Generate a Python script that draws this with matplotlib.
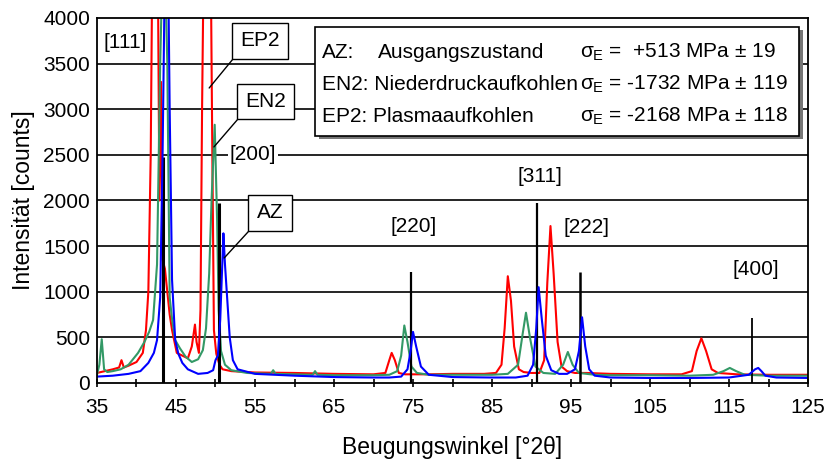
import numpy as np
import matplotlib
matplotlib.use("Agg")
import matplotlib.pyplot as plt
from matplotlib.patches import Rectangle

plt.rcParams['font.family'] = ['Liberation Sans', 'DejaVu Sans']
plt.rcParams['mathtext.fontset'] = 'custom'
plt.rcParams['mathtext.rm'] = 'Liberation Sans'
plt.rcParams['mathtext.it'] = 'Liberation Sans'

# --- data ------------------------------------------------------------
# EP2 (Plasmaaufkohlen), red
ep2_x = [35, 36, 37, 37.8, 38.1, 38.4, 39, 40, 40.8, 41.2, 41.5, 41.8, 42.0, 42.5,
         42.7, 42.9, 43.1, 43.3, 43.6, 43.9, 44.2, 44.5, 45.1, 45.8, 46.5, 47.0,
         47.4, 47.6, 47.9, 48.1, 48.3, 48.5, 49.0, 49.4, 49.6, 49.8, 50.1, 50.5,
         50.9, 52, 55, 60, 65, 70, 71.5, 72.0, 72.3, 72.7, 73.2, 74, 77, 80, 84,
         85.5, 86.2, 86.6, 87.0, 87.4, 87.8, 88.4, 89, 90, 91.0, 91.6, 92.0, 92.4,
         92.8, 93.3, 93.8, 94.5, 95.5, 97, 100, 105, 109, 110.3, 110.9, 111.5,
         112.1, 112.8, 113.6, 116, 120, 125]
ep2_y = [110, 130, 150, 170, 250, 170, 190, 230, 330, 580, 1000, 2500, 4600, 4600,
         4600, 2000, 3300, 1350, 1250, 1000, 750, 580, 330, 300, 270, 400,
         640, 450, 330, 800, 3000, 4600, 4600, 4600, 2500, 580, 320, 200,
         150, 130, 115, 110, 100, 95, 110, 250, 330, 250, 110, 95, 95, 100, 100,
         110, 200, 600, 1170, 900, 400, 150, 120, 110, 110, 250, 1100, 1720,
         1200, 450, 180, 130, 110, 110, 100, 95, 95, 130, 350, 490,
         350, 150, 110, 95, 90, 90]

# EN2 (Niederdruckaufkohlen), green
en2_x = [35, 35.3, 35.6, 35.9, 36.3, 37, 38, 39, 40.2, 41, 41.6, 42.1, 42.6, 43.0,
         43.3, 43.6, 43.9, 44.2, 44.5, 44.9, 45.5, 46.2, 47.0, 47.8, 48.4, 48.8,
         49.2, 49.5, 49.9, 50.2, 50.4, 50.7, 51.2, 52, 54, 57, 57.3, 57.6, 60,
         62.3, 62.6, 62.9, 65, 70, 72, 73.0, 73.5, 73.9, 74.3, 74.8, 75.5, 77,
         80, 85, 87, 88.3, 88.9, 89.3, 89.8, 90.5, 91.5, 93, 94.0, 94.6, 95.2,
         96, 98, 100, 105, 110, 113, 114.3, 115.1, 115.9, 117, 120, 125]
en2_y = [90, 200, 480, 150, 120, 130, 150, 200, 330, 450, 560, 690, 1300, 3500,
         4600, 4600, 3500, 940, 700, 470, 380, 290, 230, 260, 360, 600,
         1200, 2000, 2830, 1800, 800, 350, 200, 140, 110, 100, 140, 100, 95,
         90, 130, 90, 85, 85, 90, 130, 300, 630, 450, 180, 110, 90,
         90, 90, 100, 200, 550, 770, 500, 180, 110, 100, 200, 340, 200,
         110, 90, 85, 85, 80, 90, 130, 165, 130, 90, 80, 80]

# AZ (Ausgangszustand), blue
az_x = [35, 37, 39, 40.5, 41.5, 42.2, 42.6, 43.0, 43.3, 43.6, 44.0, 44.2, 44.5,
        44.9, 45.3, 45.8, 46.5, 47.8, 49.0, 49.7, 50.0, 50.3, 50.6, 50.9, 51.0,
        51.2, 51.5, 51.8, 52.2, 52.8, 55, 60, 65, 70, 72, 73.5, 74.3, 74.7, 75.0,
        75.4, 76, 77, 80, 85, 88, 89.5, 90.2, 90.6, 90.9, 91.3, 91.8, 92.5, 93.5,
        94.5, 95.5, 96.0, 96.4, 96.8, 97.3, 98, 100, 105, 110, 115, 117.5, 118.3,
        118.7, 119.1, 119.6, 121, 125]
az_y = [70, 80, 100, 130, 220, 330, 470, 940, 2500, 4600, 4600, 3000, 1130,
        470, 320, 220, 150, 100, 110, 140, 250, 300, 700, 1400, 1640,
        1300, 900, 500, 250, 150, 100, 80, 65, 60, 60, 70, 150, 350, 560,
        400, 180, 90, 65, 60, 60, 80, 200, 600, 1050, 700, 300, 140, 100,
        100, 150, 350, 720, 400, 150, 80, 60, 55, 55, 60, 90, 150,
        165, 130, 80, 60, 55]

# reference lines (Austenit) and their labels
ref_pos = [43.4, 50.5, 74.7, 90.7, 96.1, 117.9]
ref_height = [2480, 1970, 1220, 1970, 1220, 710]
ref_labels = ['[111]', '[200]', '[220]', '[311]', '[222]', '[400]']
ref_label_xy = [(35.8, 3726), (51.8, 2500), (72.1, 1710), (88.2, 2258),
                (94.0, 1700), (115.5, 1240)]

legend_rows = [('AZ:', 'Ausgangszustand', r'$\sigma_\mathrm{E}$ =  +513 MPa ± 19'),
               ('EN2: Niederdruckaufkohlen', '', r'$\sigma_\mathrm{E}$ = -1732 MPa ± 119'),
               ('EP2: Plasmaaufkohlen', '', r'$\sigma_\mathrm{E}$ = -2168 MPa ± 118')]

fs = 15

fig = plt.figure(figsize=(8.29, 4.59), dpi=100)
ax = fig.add_axes([0.117, 0.1656, 0.8577, 0.7952])

ax.set_xlim(35, 125)
ax.set_ylim(0, 4000)

# horizontal grid
for g in range(500, 4000, 500):
    ax.axhline(g, color='black', lw=1.2, zorder=1)

ax.plot(ep2_x, ep2_y, color='#ff0000', lw=1.5, zorder=2)
ax.plot(en2_x, en2_y, color='#339966', lw=1.5, zorder=3)
ax.vlines(ref_pos, 0, ref_height, colors='black',
          lw=[2.2, 2.2, 1.6, 1.6, 1.8, 1.3], zorder=4)
ax.plot(az_x, az_y, color='#0000ff', lw=1.5, zorder=5)

for lab, (lx, ly) in zip(ref_labels, ref_label_xy):
    kw = {}
    if lab == '[200]':
        kw['bbox'] = dict(facecolor='white', edgecolor='none', pad=1)
    ax.text(lx, ly, lab, fontsize=fs, ha='left', va='center', zorder=6, **kw)

# sample annotations
box = dict(boxstyle='square,pad=0.4', facecolor='white', edgecolor='black', lw=1)
for name, txy, pxy in [('EP2', (55.6, 3748), (49.2, 3233)),
                       ('EN2', (56.3, 3085), (49.8, 2587)),
                       ('AZ', (56.9, 1863), (51.1, 1370))]:
    ax.annotate(name, xy=pxy, xytext=txy, fontsize=fs, ha='center', va='center',
                bbox=box, zorder=7,
                arrowprops=dict(arrowstyle='-', color='black', lw=1,
                                shrinkA=0, shrinkB=0, relpos=(0, 0)))

# legend box with shadow
bx0, by0, bw, bh = 0.3066, 0.677, 0.6807, 0.298
ax.add_patch(Rectangle((bx0 + 0.005, by0 - 0.008), bw, bh, transform=ax.transAxes,
                       facecolor='#777777', edgecolor='none', zorder=7))
ax.add_patch(Rectangle((bx0, by0), bw, bh, transform=ax.transAxes,
                       facecolor='white', edgecolor='black', lw=1.2, zorder=8))
row_y = [0.905, 0.817, 0.730]
for (a, b, c), ry in zip(legend_rows, row_y):
    ax.text(0.3165, ry, a, transform=ax.transAxes, fontsize=fs, va='center', zorder=9)
    if b:
        ax.text(0.395, ry, b, transform=ax.transAxes, fontsize=fs, va='center', zorder=9)
    ax.text(0.679, ry, c, transform=ax.transAxes, fontsize=fs, va='center', zorder=9)

ax.set_xticks(np.arange(35, 126, 10))
ax.set_xticks(np.arange(40, 121, 10), minor=True)
ax.set_yticks(np.arange(0, 4001, 500))
ax.tick_params(axis='x', which='both', direction='inout', length=6, width=1.2,
               labelsize=fs, pad=8)
ax.tick_params(axis='y', length=0, labelsize=fs, pad=5)
for s in ax.spines.values():
    s.set_linewidth(1.3)
    s.set_zorder(10)

ax.set_xlabel('Beugungswinkel [°2θ]', fontsize=16.5)
ax.set_ylabel('Intensität [counts]', fontsize=16.5)
ax.xaxis.set_label_coords(0.5, -0.145)
ax.yaxis.set_label_coords(-0.087, 0.5)

fig.savefig('out.png', dpi=100, facecolor='white')
